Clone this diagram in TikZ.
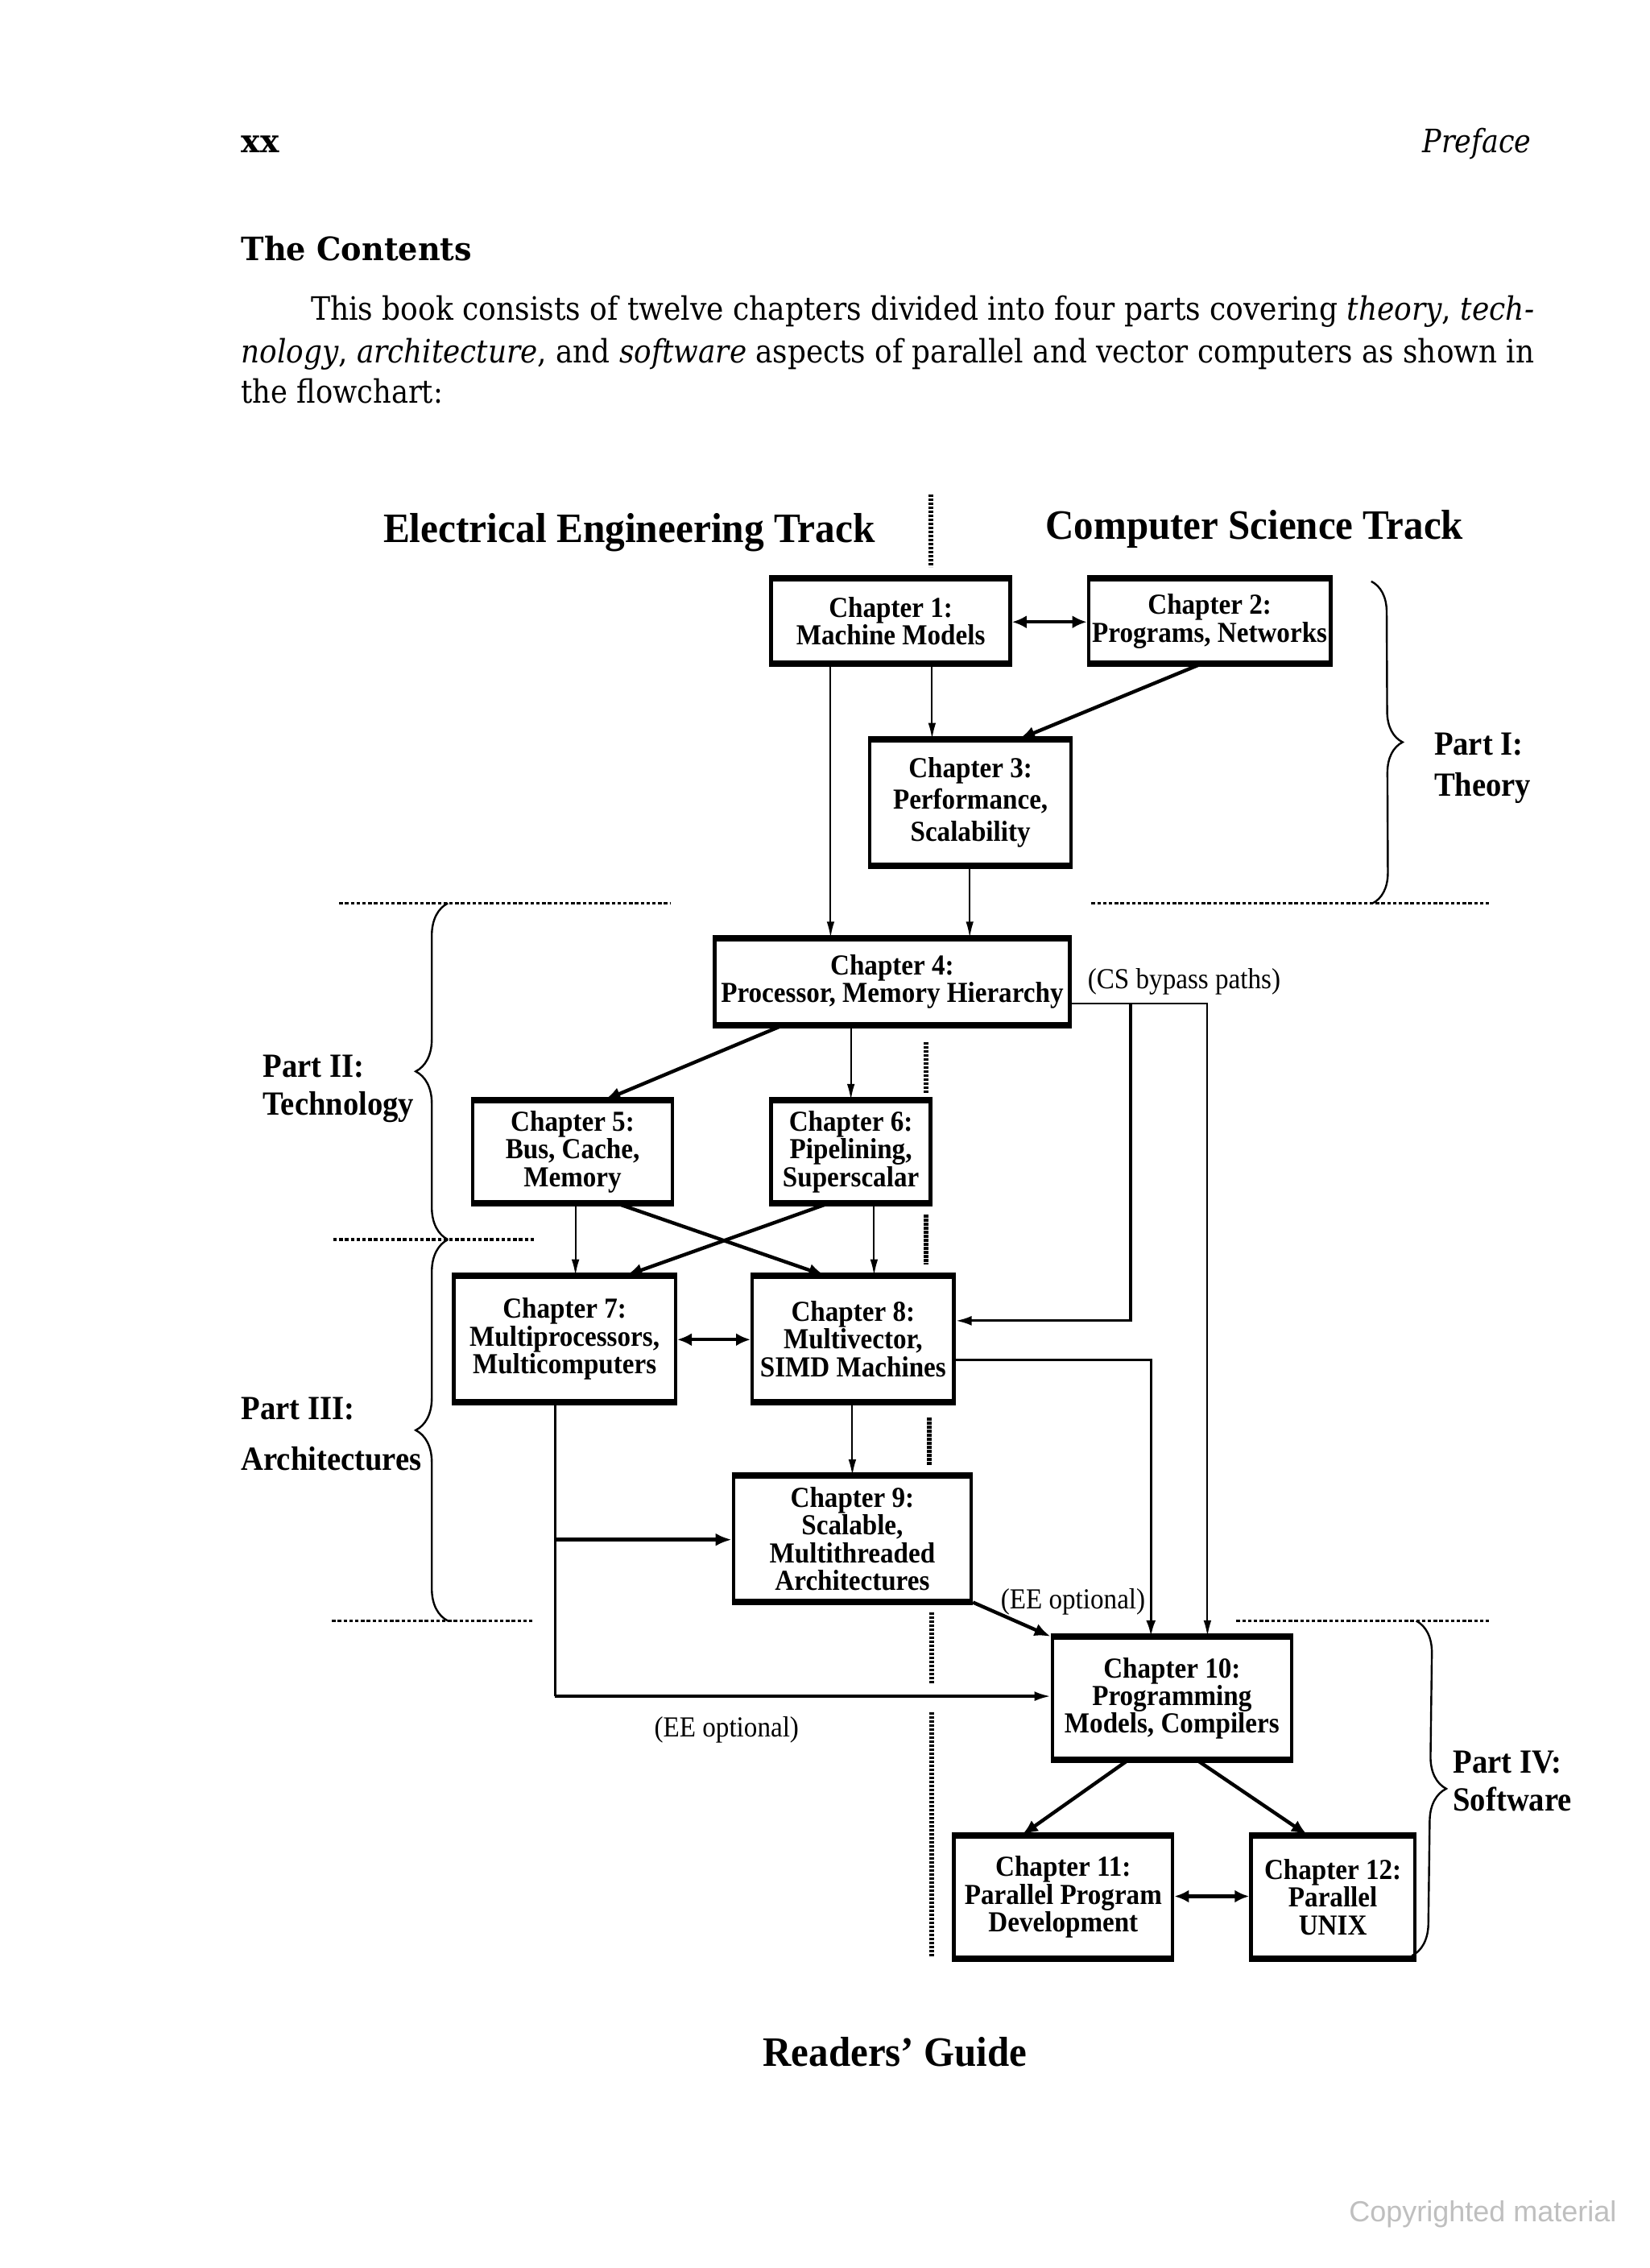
\documentclass[tikz,border=0pt]{standalone}
\usepackage{fontspec}
\setmainfont{DejaVu Serif}
\newfontfamily\boxfont{Liberation Serif}[FakeStretch=0.92]
\newfontfamily\cpfont{Liberation Sans}
\usetikzlibrary{arrows.meta,decorations.pathreplacing}
\begin{document}
\begin{tikzpicture}[x=0.45pt,y=-0.45pt,
  chbox/.style={draw, line width=1.1pt, align=center, inner sep=0pt,
    font=\boxfont\bfseries\fontsize{9}{8.6}\selectfont,
    append after command={(\tikzlastnode.north west) edge[line width=1.8pt] (\tikzlastnode.north east)
      (\tikzlastnode.south west) edge[line width=1.8pt] (\tikzlastnode.south east)}},
  thinarr/.style={line width=0.5pt, -{Latex[length=5pt,width=2.4pt]}},
  medarr/.style={line width=0.8pt, -{Latex[length=5pt,width=3pt]}},
  medline/.style={line width=0.6pt},
  thickarr/.style={line width=1.1pt, -{Latex[length=5pt,width=4pt]}},
  dblarr/.style={line width=1.1pt, {Latex[length=4.5pt,width=4pt]}-{Latex[length=4.5pt,width=4pt]}},
  dotline/.style={line width=0.8pt, dash pattern=on 1.1pt off 0.7pt},
  cdot/.style={line width=1.5pt, dash pattern=on 0.8pt off 0.45pt},
  bracestyle/.style={decorate, decoration={brace, amplitude=#1}, line width=0.6pt},
  partlbl/.style={font=\boxfont\bfseries\fontsize{10.5}{12}\selectfont, anchor=base west, inner sep=0pt},
  small/.style={font=\boxfont\fontsize{9}{10}\selectfont, inner sep=0pt},
  pagetext/.style={font=\fontsize{10}{12}\selectfont, anchor=base west, inner sep=0pt},
  title/.style={font=\boxfont\bfseries\fontsize{13}{15}\selectfont, anchor=base west, inner sep=0pt}
]
\fill[white] (0,0) rectangle (1137.8,1564.4);
\path[use as bounding box] (0,0) rectangle (1137.8,1564.4);

% page text
\node[pagetext] (xx) at (166,105) {\resizebox{11.7pt}{\height}{\bfseries xx}};
\node[pagetext] (pref) at (981,105) {\resizebox{33.75pt}{\height}{\itshape Preface}};
\node[pagetext] (cont) at (166,179.5) {\resizebox{71.6pt}{\height}{\bfseries The Contents}};
\node[pagetext] (l1) at (214,221) {\resizebox{379.8pt}{\height}{This book consists of twelve chapters divided into four parts covering \textit{theory}, \textit{tech-}}};
\node[pagetext] (l2) at (166,250) {\resizebox{401.4pt}{\height}{\textit{nology}, \textit{architecture}, and \textit{software} aspects of parallel and vector computers as shown in}};
\node[pagetext] (l3) at (166,278) {\resizebox{62.6pt}{\height}{the flowchart:}};

% track titles
\node[title] (ee) at (264,374) {\resizebox{152.6pt}{\height}{Electrical Engineering Track}};
\node[title] (cs) at (721,372) {\resizebox{129.6pt}{\height}{Computer Science Track}};

% central dotted divider
\draw[cdot] (642,341) -- (642,391);
\draw[cdot] (639,719) -- (639,754);
\draw[cdot] (639,838) -- (639,872);
\draw[cdot] (641,978) -- (641,1011);
\draw[cdot] (643,1112) -- (643,1161);
\draw[cdot] (643,1181) -- (643,1350);

% horizontal dotted part separators
\draw[dotline] (234,623) -- (463,623);
\draw[dotline] (753,623) -- (1027,623);
\draw[dotline] (230,855) -- (369,855);
\draw[dotline] (229,1118) -- (369,1118);
\draw[dotline] (853,1118) -- (1029,1118);

% boxes
\node[chbox, minimum width={165*0.45pt}, minimum height={57*0.45pt}] (ch1) at (614.5,428.5) {Chapter 1:\\Machine Models};
\node[chbox, minimum width={167*0.45pt}, minimum height={57*0.45pt}] (ch2) at (834.5,428.5) {Chapter 2:\\Programs, Networks};
\node[chbox, minimum width={139*0.45pt}, minimum height={85*0.45pt}, font=\boxfont\bfseries\fontsize{9}{9.9}\selectfont] (ch3) at (669.5,553.5) {Chapter 3:\\Performance,\\Scalability};
\node[chbox, minimum width={245*0.45pt}, minimum height={58*0.45pt}] (ch4) at (615.5,677) {Chapter 4:\\Processor, Memory Hierarchy};
\node[chbox, minimum width={138*0.45pt}, minimum height={69*0.45pt}] (ch5) at (395,794.5) {Chapter 5:\\Bus, Cache,\\Memory};
\node[chbox, minimum width={110*0.45pt}, minimum height={69*0.45pt}] (ch6) at (587,794.5) {Chapter 6:\\Pipelining,\\Superscalar};
\node[chbox, minimum width={153*0.45pt}, minimum height={85*0.45pt}] (ch7) at (389.5,923.5) {Chapter 7:\\Multiprocessors,\\Multicomputers};
\node[chbox, minimum width={139*0.45pt}, minimum height={85*0.45pt}] (ch8) at (588.5,923.5) {Chapter 8:\\Multivector,\\SIMD Machines};
\node[chbox, minimum width={164*0.45pt}, minimum height={85*0.45pt}] (ch9) at (588,1061.5) {Chapter 9:\\Scalable,\\Multithreaded\\Architectures};
\node[chbox, minimum width={165*0.45pt}, minimum height={83*0.45pt}] (ch10) at (808.5,1171.5) {Chapter 10:\\Programming\\Models, Compilers};
\node[chbox, minimum width={151*0.45pt}, minimum height={83*0.45pt}] (ch11) at (733.5,1308.5) {Chapter 11:\\Parallel Program\\Development};
\node[chbox, minimum width={113*0.45pt}, minimum height={83*0.45pt}] (ch12) at (919.5,1308.5) {Chapter 12:\\Parallel\\UNIX};

% connectors
\draw[dblarr] (ch1.east |- 0,429) -- (ch2.west |- 0,429);
\draw[thinarr] (ch1.south -| 643,0) -- (ch3.north -| 643,0);
\draw[thickarr] (ch2.south -| 828,0) -- (ch3.north -| 703,0);
\draw[thinarr] (ch1.south -| 573,0) -- (ch4.north -| 573,0);
\draw[thinarr] (ch3.south -| 669,0) -- (ch4.north -| 669,0);
\draw[thickarr] (ch4.south -| 540,0) -- (ch5.north -| 417,0);
\draw[thinarr] (ch4.south -| 587,0) -- (ch6.north -| 587,0);
\draw[thinarr] (ch5.south -| 397,0) -- (ch7.north -| 397,0);
\draw[thickarr] (ch5.south -| 426,0) -- (ch8.north -| 569,0);
\draw[thickarr] (ch6.south -| 571,0) -- (ch7.north -| 432,0);
\draw[thinarr] (ch6.south -| 603,0) -- (ch8.north -| 603,0);
\draw[dblarr] (ch7.east |- 0,924) -- (ch8.west |- 0,924);
\draw[thinarr] (ch8.south -| 588,0) -- (ch9.north -| 588,0);

\coordinate (c7m) at (383,1062);
\coordinate (c7b) at (383,1170);
\draw[medline] (ch7.south -| c7b) -- (c7b);
\draw[thickarr] (c7m) -- (ch9.west |- c7m);
\draw[medarr] (c7b) -- (ch10.west |- c7b);
\draw[thickarr] (ch9.south east) -- (ch10.north west);

\coordinate (c8r) at (794,938);
\draw[medarr] (ch8.east |- c8r) -- (c8r) -- (ch10.north -| c8r);

\coordinate (bp1) at (833,692);
\coordinate (bp2) at (780,692);
\coordinate (bp3) at (780,911);
\draw[thinarr] (ch4.east |- bp1) -- (bp1) -- (ch10.north -| bp1);
\draw[medarr] (bp2) -- (bp3) -- (ch8.east |- bp3);

\draw[thickarr] (ch10.south -| 778,0) -- (ch11.north -| 705,0);
\draw[thickarr] (ch10.south -| 826,0) -- (ch12.north -| 902,0);
\draw[dblarr] (ch11.east |- 0,1308) -- (ch12.west |- 0,1308);

% labels
\node[small, anchor=west] (csb) at (750,677) {(CS bypass paths)};
\node[small, anchor=west] (ee1) at (690,1105) {(EE optional)};
\node[small, anchor=west] (ee2) at (451,1193) {(EE optional)};

% braces
\draw[bracestyle=9.5pt] (946,401) -- (947,623);
\draw[bracestyle=10pt] (309,855) -- (309,623);
\draw[bracestyle=10pt] (309,1118) -- (309,855);
\draw[bracestyle=10pt] (977,1118) -- (974,1349);

\node[partlbl] (p1a) at (989,521) {Part I:};
\node[partlbl] (p1b) at (989,549) {Theory};
\node[partlbl] (p2a) at (181,743) {Part II:};
\node[partlbl] (p2b) at (181,769) {Technology};
\node[partlbl] (p3a) at (166,979) {Part III:};
\node[partlbl] (p3b) at (166,1014) {Architectures};
\node[partlbl] (p4a) at (1002,1223) {Part IV:};
\node[partlbl] (p4b) at (1002,1249) {Software};

\node[title] (rg) at (526,1425) {\resizebox{81.9pt}{\height}{Readers’ Guide}};
\node[font=\cpfont\fontsize{9}{10}\selectfont, text=black!25, inner sep=0pt] (cp) at (1023,1527) {Copyrighted material};
\end{tikzpicture}
\end{document}
